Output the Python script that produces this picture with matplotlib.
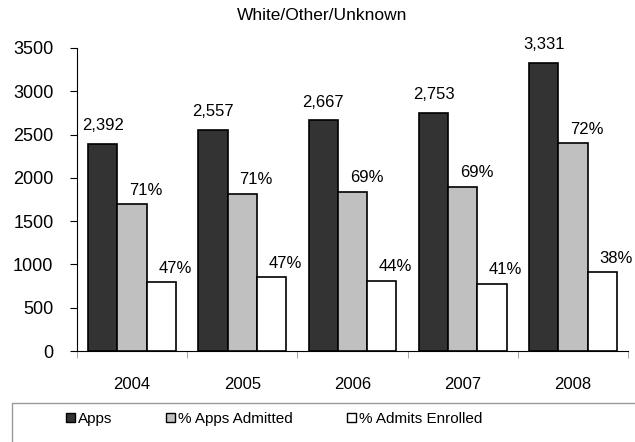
import numpy as np
import matplotlib
matplotlib.use("Agg")
import matplotlib.pyplot as plt
from matplotlib.patches import Rectangle, Patch

plt.rcParams['font.family'] = ['Liberation Sans', 'DejaVu Sans']

years = ['2004', '2005', '2006', '2007', '2008']
apps = [2392, 2557, 2667, 2753, 3331]
admitted = [1698, 1815, 1840, 1900, 2398]
enrolled = [798, 853, 810, 779, 911]
pct_admitted = ['71%', '71%', '69%', '69%', '72%']
pct_enrolled = ['47%', '47%', '44%', '41%', '38%']

fig = plt.figure(figsize=(6.35, 4.42), dpi=100)
ax = fig.add_axes([77/635, 1 - 351/442, 551/635, 303/442])

x = np.arange(len(years))
w = 0.265
kw = dict(edgecolor='black', linewidth=1.2)
b1 = ax.bar(x - w, apps, w, color='#333333', **kw)
b2 = ax.bar(x, admitted, w, color='#c0c0c0', **kw)
b3 = ax.bar(x + w, enrolled, w, color='white', **kw)

for rect, v in zip(b1, apps):
    ax.annotate(f'{v:,}', (rect.get_x() + rect.get_width() / 2, v),
                xytext=(0, 13), textcoords='offset points',
                ha='center', va='center', fontsize=12)
for bars, labels in ((b2, pct_admitted), (b3, pct_enrolled)):
    for rect, lab in zip(bars, labels):
        ax.annotate(lab, (rect.get_x() + rect.get_width() / 2, rect.get_height()),
                    xytext=(10, 10), textcoords='offset points',
                    ha='center', va='center', fontsize=12)

ax.set_xlim(-0.5, len(years) - 0.5)
ax.set_ylim(0, 3500)
ax.set_yticks(range(0, 3501, 500))
ax.set_xticks(x)
ax.set_xticklabels(years, fontsize=12)
ax.set_xticks(np.arange(-0.5, len(years)), minor=True)
ax.tick_params(axis='x', which='major', length=0, pad=19)
ax.tick_params(axis='x', which='minor', length=5, color='#999999')
ax.tick_params(axis='y', length=5, pad=12, labelsize=13)
for s in ('top', 'right'):
    ax.spines[s].set_visible(False)

fig.text(322/635, 1 - 15/442, 'White/Other/Unknown', ha='center', va='center', fontsize=12.5)

# legend box running off the bottom/right edge
fig.patches.append(Rectangle((12/635, -0.05), 1.0, 0.05 + 1 - 403/442,
                             transform=fig.transFigure, facecolor='white',
                             edgecolor='#999999', linewidth=1))
handles = [Patch(facecolor='#333333', edgecolor='black'),
           Patch(facecolor='#c0c0c0', edgecolor='black'),
           Patch(facecolor='white', edgecolor='black')]
fig.legend(handles, ['Apps', '% Apps Admitted', '% Admits Enrolled'],
           loc='center left', bbox_to_anchor=(60/635, 1 - 419/442), ncol=3,
           frameon=False, fontsize=11, handlelength=0.6, handleheight=0.6,
           handletextpad=0.2, columnspacing=3.5, borderaxespad=0)

fig.savefig('out.png', dpi=100)
